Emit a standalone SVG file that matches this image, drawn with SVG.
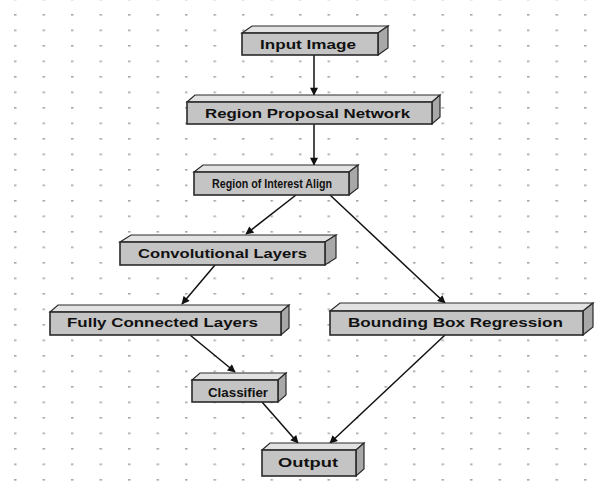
<svg xmlns="http://www.w3.org/2000/svg" width="610" height="483" viewBox="0 0 610 483">
<style>
.front{fill:#c4c4c4;stroke:#2a2a2a;stroke-width:1.6}
.top{fill:#e2e2e2;stroke:#2a2a2a;stroke-width:1.2}
.side{fill:#a8a8a8;stroke:#2a2a2a;stroke-width:1.2}
.lbl{font-family:"Liberation Sans",Arial,sans-serif;font-weight:bold;font-size:12.5px;fill:#111;text-anchor:start}
.con{stroke:#111;stroke-width:1.5;fill:none;marker-end:url(#ah)}
</style>
<defs>
<pattern id="dots" x="14" y="14" width="28.5" height="15.5" patternUnits="userSpaceOnUse">
<rect x="0" y="0" width="2.5" height="1.6" fill="#a6a6a6"/>
</pattern>
<marker id="ah" viewBox="0 0 10 10" refX="9" refY="5" markerWidth="9" markerHeight="8" markerUnits="userSpaceOnUse" orient="auto">
<path d="M0,0 L10,5 L0,10 Z" fill="#111"/>
</marker>
</defs>
<rect width="610" height="483" fill="#ffffff"/>
<rect width="610" height="483" fill="url(#dots)"/>

<g id="connectors">
<line class="con" x1="314" y1="55" x2="314" y2="95"/>
<line class="con" x1="314" y1="124" x2="314" y2="165"/>
<line class="con" x1="296" y1="195" x2="246" y2="234"/>
<line class="con" x1="330" y1="195" x2="445" y2="303"/>
<line class="con" x1="215" y1="265" x2="182" y2="304"/>
<line class="con" x1="190" y1="335" x2="235" y2="372"/>
<line class="con" x1="262" y1="402" x2="298" y2="443"/>
<line class="con" x1="445" y1="335" x2="330" y2="443"/>
</g>

<g id="input-image">
<polygon class="top" points="242,33 252,26 388,26 378,33"/>
<polygon class="side" points="378,33 388,26 388,48 378,55"/>
<rect class="front" x="242" y="33" width="136" height="22"/>
<text class="lbl" x="260" y="49" textLength="96" lengthAdjust="spacingAndGlyphs">Input Image</text>
</g>

<g id="region-proposal-network">
<polygon class="top" points="187,102 195,95 440,95 432,102"/>
<polygon class="side" points="432,102 440,95 440,117 432,124"/>
<rect class="front" x="187" y="102" width="245" height="22"/>
<text class="lbl" x="205" y="118" textLength="205" lengthAdjust="spacingAndGlyphs">Region Proposal Network</text>
</g>

<g id="roi-align">
<polygon class="top" points="194,172 203,165 358,165 349,172"/>
<polygon class="side" points="349,172 358,165 358,188 349,195"/>
<rect class="front" x="194" y="172" width="155" height="23"/>
<text class="lbl" x="212" y="188" textLength="120" lengthAdjust="spacingAndGlyphs">Region of Interest Align</text>
</g>

<g id="convolutional-layers">
<polygon class="top" points="120,242 131,235 336,235 325,242"/>
<polygon class="side" points="325,242 336,235 336,258 325,265"/>
<rect class="front" x="120" y="242" width="205" height="23"/>
<text class="lbl" x="138" y="258" textLength="169" lengthAdjust="spacingAndGlyphs">Convolutional Layers</text>
</g>

<g id="fully-connected-layers">
<polygon class="top" points="50,312 58,305 289,305 281,312"/>
<polygon class="side" points="281,312 289,305 289,328 281,335"/>
<rect class="front" x="50" y="312" width="231" height="23"/>
<text class="lbl" x="67" y="327" textLength="191" lengthAdjust="spacingAndGlyphs">Fully Connected Layers</text>
</g>

<g id="bounding-box-regression">
<polygon class="top" points="330,311 340,303 593,303 583,311"/>
<polygon class="side" points="583,311 593,303 593,327 583,335"/>
<rect class="front" x="330" y="311" width="253" height="24"/>
<text class="lbl" x="348" y="327" textLength="215" lengthAdjust="spacingAndGlyphs">Bounding Box Regression</text>
</g>

<g id="classifier">
<polygon class="top" points="192,380 200,373 286,373 278,380"/>
<polygon class="side" points="278,380 286,373 286,395 278,402"/>
<rect class="front" x="192" y="380" width="86" height="22"/>
<text class="lbl" x="208" y="397" textLength="60" lengthAdjust="spacingAndGlyphs">Classifier</text>
</g>

<g id="output">
<polygon class="top" points="262,450 270,443 364,443 356,450"/>
<polygon class="side" points="356,450 364,443 364,469 356,476"/>
<rect class="front" x="262" y="450" width="94" height="26"/>
<text class="lbl" x="278" y="467" textLength="60" lengthAdjust="spacingAndGlyphs">Output</text>
</g>
</svg>
